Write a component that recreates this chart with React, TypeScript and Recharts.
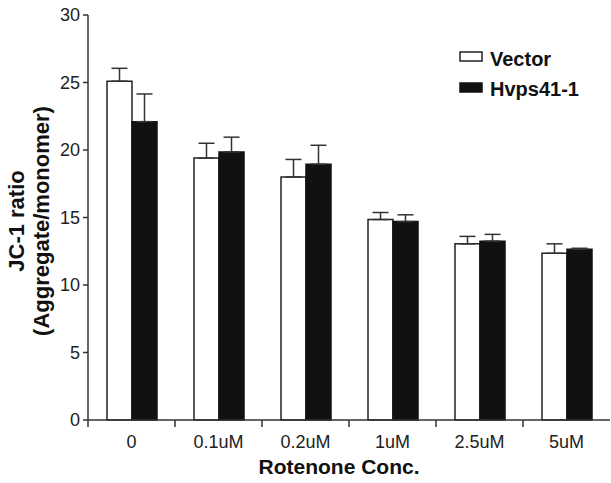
import React from 'react';
import { BarChart, Bar, XAxis, YAxis, ErrorBar } from 'recharts';

const categories = ['0', '0.1uM', '0.2uM', '1uM', '2.5uM', '5uM'];
const vectorMeans = [25.1, 19.4, 18.0, 14.85, 13.05, 12.35];
const vectorErrors = [0.95, 1.1, 1.3, 0.52, 0.55, 0.7];
const hvpsMeans = [22.1, 19.85, 18.95, 14.7, 13.25, 12.65];
const hvpsErrors = [2.05, 1.1, 1.4, 0.5, 0.5, 0.07];
const yTicks = [0, 5, 10, 15, 20, 25, 30];
const seriesNames = ['Vector', 'Hvps41-1'];

const data = categories.map((c, i) => ({
  conc: c,
  vector: vectorMeans[i],
  vectorErr: [0, vectorErrors[i]],
  hvps: hvpsMeans[i],
  hvpsErr: [0, hvpsErrors[i]],
}));

const FONT = '"Liberation Sans", Arial, Helvetica, sans-serif';
const AXIS = '#333';

const XTick = (props: any) => {
  const { x, y, payload } = props;
  const half = payload && typeof payload.offset === 'number' && payload.offset > 0 ? payload.offset : 43.5;
  const bx = x - half;
  return (
    <g>
      <line x1={bx} y1={y} x2={bx} y2={y + 7} stroke={AXIS} strokeWidth={1.5} />
      <text x={x} y={y + 28} textAnchor="middle" fontSize={18} fill="#222" fontFamily={FONT}>
        {payload.value}
      </text>
    </g>
  );
};

const LegendBox = () => (
  <svg width={130} height={56} style={{ position: 'absolute', left: 458, top: 48, display: 'block' }}>
    <rect x={2} y={4} width={22} height={9} fill="#fff" stroke="#222" strokeWidth={1.5} />
    <text x={32} y={18} fontSize={20} fontWeight="bold" fill="#111" fontFamily={FONT}>{seriesNames[0]}</text>
    <rect x={2} y={35} width={22} height={9} fill="#111" stroke="#111" strokeWidth={1.5} />
    <text x={32} y={48} fontSize={20} fontWeight="bold" fill="#111" fontFamily={FONT}>{seriesNames[1]}</text>
  </svg>
);

const YLabel = () => (
  <g>
    <text transform="translate(24,221) rotate(-90)" textAnchor="middle" fontSize={22} fontWeight="bold" fill="#111" fontFamily={FONT}>
      JC-1 ratio
    </text>
    <text transform="translate(49,221) rotate(-90)" textAnchor="middle" fontSize={22} fontWeight="bold" fill="#111" fontFamily={FONT}>
      (Aggregate/monomer)
    </text>
  </g>
);

const XLabel = () => (
  <text x={339} y={474} textAnchor="middle" fontSize={21} fontWeight="bold" fill="#111" fontFamily={FONT}>
    Rotenone Conc.
  </text>
);

export default function App() {
  return (
    <div style={{ position: 'absolute', left: 0, top: 0, width: 611, height: 483, background: '#fff' }}>
      <BarChart
        width={611}
        height={483}
        data={data}
        margin={{ top: 15, right: 1, left: 0, bottom: 0 }}
        barGap={0}
        barCategoryGap={18}
      >
        <XAxis
          dataKey="conc"
          height={63}
          tick={<XTick />}
          tickLine={false}
          tickSize={0}
          tickMargin={0}
          axisLine={{ stroke: AXIS, strokeWidth: 1.5 }}
          interval={0}
          label={{ content: () => <XLabel /> }}
        />
        <YAxis
          width={88}
          domain={[0, 30]}
          ticks={yTicks}
          interval={0}
          tickSize={5}
          tickMargin={3}
          tick={{ fontSize: 18, fill: '#222', fontFamily: FONT }}
          tickLine={{ stroke: AXIS, strokeWidth: 1.5 }}
          axisLine={{ stroke: AXIS, strokeWidth: 1.5 }}
          label={{ content: () => <YLabel /> }}
        />
        <Bar dataKey="vector" name={seriesNames[0]} fill="#ffffff" stroke="#222" strokeWidth={1.5} barSize={25} isAnimationActive={false}>
          <ErrorBar dataKey="vectorErr" direction="y" width={8} stroke="#333" strokeWidth={1.5} />
        </Bar>
        <Bar dataKey="hvps" name={seriesNames[1]} fill="#111111" stroke="#111" strokeWidth={1.5} barSize={25} isAnimationActive={false}>
          <ErrorBar dataKey="hvpsErr" direction="y" width={8} stroke="#333" strokeWidth={1.5} />
        </Bar>
      </BarChart>
      <LegendBox />
    </div>
  );
}
